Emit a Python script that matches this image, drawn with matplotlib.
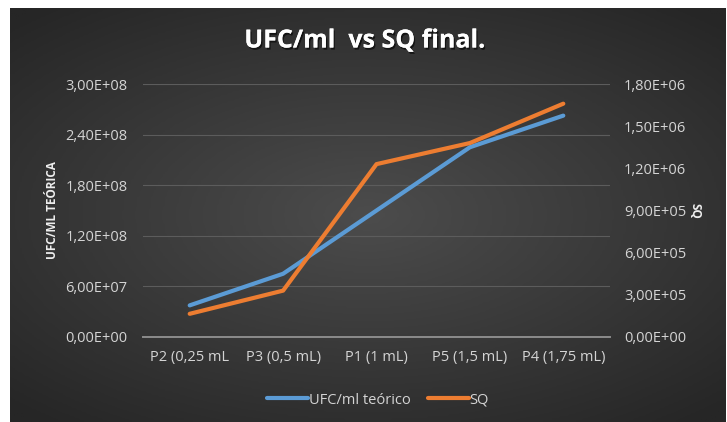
import numpy as np
import matplotlib
matplotlib.use('Agg')
import matplotlib.pyplot as plt
import matplotlib.patheffects as pe
from matplotlib.ticker import FuncFormatter

# data
categories = ['P2 (0,25 mL', 'P3 (0,5 mL)', 'P1 (1 mL)', 'P5 (1,5 mL)', 'P4 (1,75 mL)']
ufc_teorico = [3.75e7, 7.5e7, 1.5e8, 2.25e8, 2.625e8]
sq_values = [1.65e5, 3.3e5, 1.23e6, 1.38e6, 1.66e6]
left_ticks = [0, 6e7, 1.2e8, 1.8e8, 2.4e8, 3e8]
right_ticks = [0, 3e5, 6e5, 9e5, 1.2e6, 1.5e6, 1.8e6]

BLUE = '#5B9BD5'
ORANGE = '#ED7D31'
TXT = '#d4d4d4'

plt.rcParams['font.family'] = ['Open Sans', 'DejaVu Sans']


def sci_comma(v, pos=None):
    """Excel-style 0,00E+00 label."""
    s = f'{v:.2E}'
    return s.replace('.', ',')


W, H = 727, 422
fig = plt.figure(figsize=(W / 100, H / 100), dpi=100)
fig.patch.set_facecolor('white')

# dark radial-gradient background (chart area of the spreadsheet)
bg = fig.add_axes([10 / W, 0, 1 - 12 / W, 1 - 8 / H])
bg.set_axis_off()
yy, xx = np.mgrid[-1:1:200j, -1:1:300j]
r = np.sqrt((xx * 0.9) ** 2 + (yy * 1.0) ** 2)
grad = np.clip(1 - r / 1.3, 0, 1)
bg.imshow(grad, cmap=matplotlib.colors.LinearSegmentedColormap.from_list(
    'bgc', ['#262626', '#4c4c4c']), aspect='auto', extent=[0, 1, 0, 1])

# plot area
x0, x1 = 143, 610
y_top, y_bot = 84, 337
ax = fig.add_axes([x0 / W, 1 - y_bot / H, (x1 - x0) / W, (y_bot - y_top) / H])
ax.patch.set_alpha(0)
ax2 = ax.twinx()
ax2.patch.set_alpha(0)

x = np.arange(len(categories))
ax.plot(x, ufc_teorico, color=BLUE, lw=3, solid_capstyle='round', label='UFC/ml teórico', zorder=3)
ax2.plot(x, sq_values, color=ORANGE, lw=3, solid_capstyle='round', label='SQ', zorder=3)

ax.set_xlim(-0.5, len(categories) - 0.5)
ax.set_ylim(0, 3e8)
ax2.set_ylim(0, 1.8e6)
ax.set_yticks(left_ticks)
ax2.set_yticks(right_ticks)
ax.yaxis.set_major_formatter(FuncFormatter(sci_comma))
ax2.yaxis.set_major_formatter(FuncFormatter(sci_comma))
ax.set_xticks(x)
ax.set_xticklabels(categories)

ax.grid(axis='y', color='#5c5c5c', lw=0.8)
ax.set_axisbelow(True)
for a in (ax, ax2):
    for s in a.spines.values():
        s.set_visible(False)
    a.tick_params(length=0, colors=TXT, labelsize=10.5)
ax.spines['bottom'].set_visible(True)
ax.spines['bottom'].set_color('#8c8c8c')
ax.spines['bottom'].set_linewidth(1.4)
ax.tick_params(axis='y', pad=11)
ax2.tick_params(axis='y', pad=10)
ax.tick_params(axis='x', pad=9)

ax.set_ylabel('UFC/ML TEÓRICA', color='#eeeeee', fontsize=8.5, fontweight='bold', labelpad=5)
ax2.set_ylabel('SQ', color='#eeeeee', fontsize=8.5, fontweight='bold', rotation=270, labelpad=11)

title = fig.text(365 / W, 1 - 41 / H, 'UFC/ml  vs SQ final.', ha='center', va='center',
                 color='white', fontsize=18, fontweight='bold')
title.set_path_effects([pe.withSimplePatchShadow(offset=(1, -1.5), shadow_rgbFace='black', alpha=0.6),
                        pe.Normal()])

h1, l1 = ax.get_legend_handles_labels()
h2, l2 = ax2.get_legend_handles_labels()
fig.legend(h1 + h2, l1 + l2, loc='center', bbox_to_anchor=(378 / W, 1 - 400 / H), ncol=2,
           frameon=False, fontsize=10.5, labelcolor=TXT, handlelength=2.8,
           handletextpad=0.05, columnspacing=1.2)

fig.savefig('out.png', dpi=100, facecolor=fig.get_facecolor())
